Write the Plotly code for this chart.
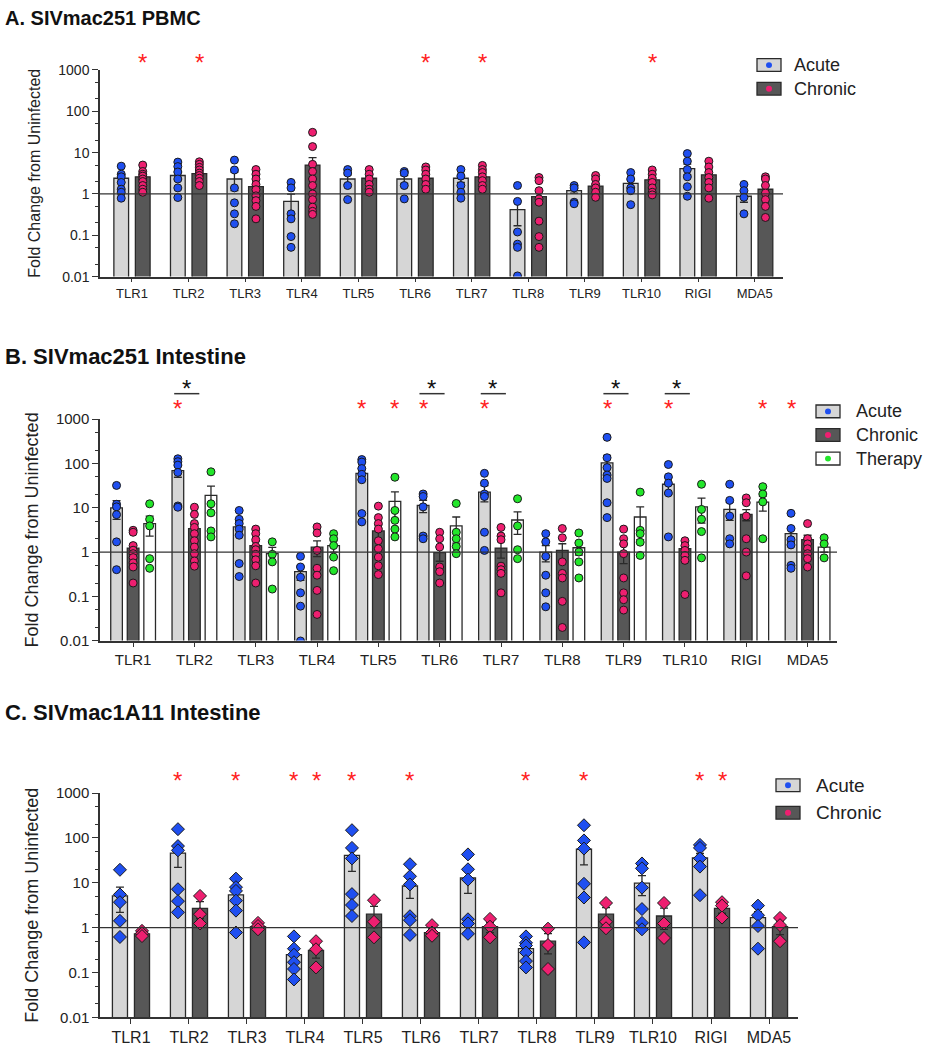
import plotly.graph_objects as go

# ---------------- DATA ----------------
categories = ["TLR1", "TLR2", "TLR3", "TLR4", "TLR5", "TLR6",
              "TLR7", "TLR8", "TLR9", "TLR10", "RIGI", "MDA5"]
yticks = [0.01, 0.1, 1, 10, 100, 1000]
ytick_text = ["0.01", "0.1", "1", "10", "100", "1000"]

# Panel A: SIVmac251 PBMC
a_acute_mean = [2.4, 2.8, 2.3, 0.66, 2.3, 2.3, 2.4, 0.42, 1.2, 1.8, 4.1, 0.88]
a_acute_sem = [0.5, 0.6, 1.1, 0.33, 0.6, 0.5, 0.5, 0.25, 0.15, 0.4, 1.2, 0.25]
a_acute_pts = [
    [4.7, 3.0, 2.6, 1.9, 1.3, 1.1, 0.79],
    [5.9, 4.6, 3.4, 2.3, 1.4, 0.82],
    [6.6, 3.8, 1.4, 0.61, 0.33, 0.19],
    [1.9, 1.4, 0.33, 0.25, 0.093, 0.051],
    [3.9, 3.2, 1.6, 0.73],
    [3.5, 3.2, 1.6, 0.76],
    [3.9, 2.7, 1.6, 1.1, 0.79],
    [1.6, 0.66, 0.12, 0.061, 0.051, 0.0104],
    [1.6, 1.4, 0.63, 0.58],
    [3.3, 2.3, 1.4, 1.2, 0.55],
    [9.5, 6.2, 3.9, 2.6, 1.5, 0.88],
    [1.7, 1.2, 0.83, 0.33],
]
a_chronic_mean = [2.6, 3.1, 1.5, 5.0, 2.4, 2.4, 2.6, 0.86, 1.55, 2.2, 2.9, 1.3]
a_chronic_sem = [0.4, 0.4, 0.35, 2.6, 0.3, 0.3, 0.35, 0.3, 0.2, 0.3, 0.6, 0.3]
a_chronic_pts = [
    [5.0, 3.5, 3.0, 2.7, 2.3, 2.0, 1.6, 1.3, 1.1],
    [6.0, 5.2, 4.4, 3.8, 3.2, 2.8, 2.4, 2.0, 1.6],
    [3.9, 3.0, 2.3, 1.7, 1.27, 0.9, 0.69, 0.5, 0.25],
    [31, 14, 5.2, 3.5, 2.3, 1.6, 1.0, 0.73, 0.48, 0.38, 0.32],
    [3.9, 3.0, 2.3, 1.7, 1.3, 1.1],
    [4.5, 3.8, 3.0, 2.3, 1.7, 1.3],
    [4.9, 3.9, 3.3, 2.6, 2.1, 1.6, 1.3],
    [2.5, 2.1, 1.2, 0.76, 0.63, 0.22, 0.093, 0.051],
    [2.8, 2.3, 1.7, 1.4, 1.1, 0.83],
    [3.8, 3.0, 2.4, 1.9, 1.4, 1.1, 0.95],
    [6.2, 4.5, 3.3, 2.5, 1.9, 1.4, 0.79],
    [2.6, 2.3, 1.6, 1.05, 0.73, 0.5, 0.27],
]
a_star_acute = []
a_star_chronic = ["TLR1", "TLR2", "TLR6", "TLR7", "TLR10"]

# Panel B: SIVmac251 Intestine
b_acute_mean = [10, 69, 3.7, 0.36, 60, 11.3, 22.6, 1.0, 103, 34, 9.2, 2.6]
b_acute_sem = [4.5, 20, 1.2, 0.13, 18, 3.5, 9, 0.4, 50, 14, 4, 1.0]
b_acute_pts = [
    [32, 12, 10.5, 7, 1.7, 0.4],
    [128, 110, 92, 63, 11, 10.3],
    [8.7, 5.5, 4.4, 3.3, 2.4, 0.55, 0.28],
    [0.8, 0.46, 0.27, 0.12, 0.06, 0.0098],
    [123, 108, 77, 57, 43, 7.4, 4.8],
    [20.5, 18, 10.5, 2.3, 2.0],
    [60, 36, 20.5, 18, 2.8, 1.09],
    [2.6, 1.7, 0.8, 0.30, 0.12, 0.058],
    [390, 135, 81, 55, 46, 13, 6.0],
    [95, 50, 36, 21.5, 2.2],
    [34, 14.7, 6.5, 2.0, 1.53],
    [7.5, 3.4, 1.9, 1.45, 0.5, 0.43],
]
b_chronic_mean = [1.23, 3.4, 1.4, 1.29, 3.0, 0.97, 1.23, 1.09, 1.0, 1.19, 7.1, 1.9]
b_chronic_sem = [0.3, 1.0, 0.35, 0.5, 1.1, 0.35, 0.5, 0.45, 0.45, 0.18, 2.0, 0.5]
b_chronic_pts = [
    [3.1, 2.8, 1.4, 1.1, 0.92, 0.75, 0.57, 0.46, 0.2],
    [10.3, 7.1, 4.4, 3.6, 2.6, 1.8, 1.3, 0.92, 0.63, 0.48],
    [3.3, 2.6, 1.9, 1.34, 1.13, 0.89, 0.67, 0.49, 0.2],
    [3.7, 2.7, 1.09, 0.43, 0.30, 0.136, 0.039],
    [10.9, 6.0, 4.4, 3.3, 1.8, 1.19, 0.77, 0.49, 0.31],
    [2.8, 2.0, 1.3, 0.46, 0.36, 0.2],
    [3.6, 2.3, 1.9, 0.48, 0.4, 0.33, 0.12],
    [3.4, 2.1, 0.6, 0.33, 0.26, 0.077, 0.0198],
    [3.3, 2.0, 1.53, 0.92, 0.26, 0.12, 0.084, 0.049],
    [1.8, 1.4, 1.09, 0.84, 0.65, 0.11],
    [16.7, 13, 6.5, 2.0, 1.0, 0.29],
    [4.4, 2.0, 1.53, 1.19, 0.92, 0.71, 0.46],
]
b_therapy_mean = [4.4, 19, 0.92, 1.4, 14, 3.9, 5.3, 1.25, 6.2, 10.5, 13.4, 1.29]
b_therapy_sem = [2.1, 12, 0.35, 0.4, 9, 2.3, 2.8, 0.4, 4.3, 6, 5, 0.3]
b_therapy_pts = [
    [12.3, 5.5, 3.9, 0.71, 0.43],
    [65, 12.3, 7.7, 3.0, 2.2],
    [1.7, 0.89, 0.6, 0.146],
    [2.6, 2.0, 1.4, 0.77, 0.38],
    [49, 8.7, 5.2, 3.3, 2.2],
    [12.5, 2.8, 2.0, 1.34, 0.92],
    [16, 3.9, 1.13, 0.71],
    [2.7, 1.6, 1.0, 0.6, 0.26],
    [22.6, 3.1, 2.6, 1.67, 0.84],
    [34, 9.2, 5.5, 2.9, 0.74],
    [30, 20.5, 13.6, 2.0],
    [2.1, 1.53, 0.74],
]
b_star_acute = ["TLR2", "TLR5", "TLR6", "TLR7", "TLR9", "TLR10", "MDA5"]
b_star_therapy = ["TLR5", "RIGI"]
b_bracket = ["TLR2", "TLR6", "TLR7", "TLR9", "TLR10"]

# Panel C: SIVmac1A11 Intestine
c_acute_mean = [5.1, 46, 5.4, 0.25, 41, 8.5, 12.8, 0.34, 56, 9.8, 36, 1.68]
c_acute_sem = [2.9, 24, 1.8, 0.09, 23, 4, 7, 0.08, 31, 4.6, 9, 0.6]
c_acute_pts = [
    [19.5, 5.5, 3.7, 1.42, 0.62],
    [157, 66, 53, 7.2, 3.9, 2.2],
    [12.4, 8.0, 6.6, 4.0, 2.4, 0.78],
    [0.64, 0.34, 0.25, 0.17, 0.12, 0.07],
    [149, 60, 35, 5.6, 3.2, 1.82],
    [26, 14, 9.2, 1.8, 1.47, 0.69],
    [43, 20, 11.8, 1.54, 1.24, 0.73],
    [0.64, 0.46, 0.40, 0.28, 0.18, 0.13],
    [192, 88, 58, 9.5, 4.7, 0.47],
    [27, 21, 7.8, 2.6, 1.28, 0.92],
    [70, 60, 35, 23, 5.3],
    [3.1, 1.89, 1.09, 0.34],
]
c_chronic_mean = [0.73, 2.7, 1.05, 0.31, 2.0, 0.78, 1.05, 0.50, 2.0, 1.82, 2.7, 1.05]
c_chronic_sem = [0.06, 1.1, 0.1, 0.1, 1.0, 0.15, 0.27, 0.24, 0.8, 0.9, 0.6, 0.35]
c_chronic_pts = [
    [0.85, 0.75, 0.65],
    [5.1, 2.0, 1.24],
    [1.28, 1.09, 0.92],
    [0.5, 0.33, 0.13],
    [4.1, 1.35, 0.61],
    [1.14, 0.78, 0.66],
    [1.57, 1.05, 0.61],
    [0.95, 0.41, 0.12],
    [3.55, 1.35, 0.97],
    [3.55, 1.24, 0.59],
    [3.7, 3.1, 1.68],
    [1.65, 1.14, 0.50],
]
c_star_acute = ["TLR2", "TLR3", "TLR4", "TLR5", "TLR6", "TLR8", "TLR9", "RIGI"]
c_star_chronic = ["TLR4", "RIGI"]

# ---------------- STYLE ----------------
W, H = 926, 1050
FONT = "Arial, Liberation Sans, sans-serif"
TXT = "#222222"
EDGE = "#2a2a2a"
LIGHT, DARK, WHITE = "#d6d6d6", "#575757", "#ffffff"
BLUE, PINK, GREEN = "#1f4ff0", "#ee1f70", "#22e62a"
RED = "#ff2222"


def fx(px):
    return px / W


def fy(py):
    return 1 - py / H


fig = go.Figure()

panels = [
    dict(ax="", title="A. SIVmac251 PBMC", title_y=9, title_size=20,
         xd=(100, 783), yd=(62, 272), xr=(-0.565, 11.5), xtick_font=13, ytick_font=14, ticklen=4,
         ytitle_font=16, standoff=14,
         groups=[("Acute", a_acute_mean, a_acute_sem, a_acute_pts, LIGHT, BLUE, -0.19, 0.26, "circle", 8),
                 ("Chronic", a_chronic_mean, a_chronic_sem, a_chronic_pts, DARK, PINK, 0.19, 0.26, "circle", 8)],
         stars=[(a_star_acute, -0.19), (a_star_chronic, 0.19)], star_y=51,
         legend=dict(x=757, ys=[57, 81], tx=792, size=18)),
    dict(ax="2", title="B. SIVmac251 Intestine", title_y=353, title_size=22,
         xd=(100, 837), yd=(417, 642), xr=(-0.54, 11.48), xtick_font=15, ytick_font=15, ticklen=5,
         ytitle_font=18, standoff=13,
         groups=[("Acute", b_acute_mean, b_acute_sem, b_acute_pts, LIGHT, BLUE, -0.27, 0.19, "circle", 8),
                 ("Chronic", b_chronic_mean, b_chronic_sem, b_chronic_pts, DARK, PINK, 0.0, 0.19, "circle", 8),
                 ("Therapy", b_therapy_mean, b_therapy_sem, b_therapy_pts, WHITE, GREEN, 0.27, 0.19, "circle", 8)],
         stars=[(b_star_acute, -0.27), (b_star_therapy, 0.27)], star_y=403,
         legend=dict(x=816, ys=[409, 433, 457], tx=854, size=18)),
    dict(ax="3", title="C. SIVmac1A11 Intestine", title_y=715, title_size=22,
         xd=(100, 798), yd=(797, 1025), xr=(-0.534, 11.5), xtick_font=16, ytick_font=15, ticklen=5,
         ytitle_font=18, standoff=13,
         groups=[("Acute", c_acute_mean, c_acute_sem, c_acute_pts, LIGHT, BLUE, -0.19, 0.26, "diamond", 10),
                 ("Chronic", c_chronic_mean, c_chronic_sem, c_chronic_pts, DARK, PINK, 0.19, 0.26, "diamond", 10)],
         stars=[(c_star_acute, -0.19), (c_star_chronic, 0.19)], star_y=781,
         legend=dict(x=776, ys=[789, 817], tx=814, size=19)),
]

STAR_SHIFT = 3
annotations = []
shapes = []
idx = list(range(len(categories)))

for p in panels:
    xa = "x" + p["ax"]
    ya = "y" + p["ax"]
    for name, mean, sem, pts, fill, dot, off, wd, sym, msz in p["groups"]:
        fig.add_trace(go.Bar(
            x=[i + off for i in idx], y=mean, width=wd, name=name, showlegend=False,
            marker=dict(color=fill, line=dict(color=EDGE, width=1.3)),
            error_y=dict(type="data", array=sem, visible=True, color=EDGE, thickness=1.3, width=4),
            xaxis=xa, yaxis=ya, hoverinfo="skip"))
    for name, mean, sem, pts, fill, dot, off, wd, sym, msz in p["groups"]:
        xs, ys = [], []
        for i, vals in enumerate(pts):
            xs += [i + off] * len(vals)
            ys += vals
        fig.add_trace(go.Scatter(
            x=xs, y=ys, mode="markers", name=name, showlegend=False,
            marker=dict(color=dot, size=msz, symbol=sym, line=dict(color="#1a1a1a", width=1)),
            xaxis=xa, yaxis=ya))
    shapes.append(dict(type="line", xref=xa + " domain", x0=0, x1=1, yref=ya, y0=1, y1=1,
                       line=dict(color="#333333", width=1.3), layer="above"))
    for names, off in p["stars"]:
        for c in names:
            annotations.append(dict(x=categories.index(c) + off, xref=xa, y=fy(p["star_y"] + STAR_SHIFT),
                                    yref="paper", text="*", showarrow=False,
                                    font=dict(color=RED, size=24, family=FONT),
                                    xanchor="center", yanchor="middle"))
    annotations.append(dict(x=fx(3), y=fy(p["title_y"]), xref="paper", yref="paper",
                            text="<b>" + p["title"] + "</b>", showarrow=False, xanchor="left", yanchor="middle",
                            font=dict(size=p["title_size"], color="#111111", family=FONT)))
    lg = p["legend"]
    for (name, mean, sem, pts, fill, dot, off, wd, sym, msz), ly in zip(p["groups"], lg["ys"]):
        shapes.append(dict(type="rect", xref="paper", yref="paper", x0=fx(lg["x"]), x1=fx(lg["x"] + 24),
                           y0=fy(ly + 6.5), y1=fy(ly - 6.5), fillcolor=fill, line=dict(color=EDGE, width=1.3)))
        shapes.append(dict(type="circle", xref="paper", yref="paper", x0=fx(lg["x"] + 9), x1=fx(lg["x"] + 15),
                           y0=fy(ly + 3), y1=fy(ly - 3), fillcolor=dot, line=dict(width=0)))
        annotations.append(dict(x=fx(lg["tx"]), y=fy(ly), xref="paper", yref="paper", text=name,
                                showarrow=False, xanchor="left", yanchor="middle",
                                font=dict(size=lg["size"], color=TXT, family=FONT)))

    fig.layout["xaxis" + p["ax"]] = dict(
        domain=[fx(p["xd"][0]), fx(p["xd"][1])], range=list(p["xr"]), anchor=ya,
        tickmode="array", tickvals=idx, ticktext=categories, ticks="outside", ticklen=p["ticklen"],
        tickcolor="#333333", tickwidth=1.3, showline=True, linecolor="#333333", linewidth=1.5,
        showgrid=False, zeroline=False, tickfont=dict(size=p["xtick_font"], color=TXT, family=FONT))
    fig.layout["yaxis" + p["ax"]] = dict(
        domain=[fy(p["yd"][1]), fy(p["yd"][0])], type="log", range=[-2, 3], anchor=xa,
        tickmode="array", tickvals=yticks, ticktext=ytick_text, ticks="outside", ticklen=6,
        tickcolor="#333333", tickwidth=1.3, showline=True, linecolor="#333333", linewidth=1.5,
        showgrid=False, zeroline=False, tickfont=dict(size=p["ytick_font"], color=TXT, family=FONT),
        minor=dict(ticks="outside", ticklen=3, tickcolor="#333333", tickwidth=1, showgrid=False),
        title=dict(text="Fold Change from Uninfected", standoff=p["standoff"],
                   font=dict(size=p["ytitle_font"], color=TXT, family=FONT)))

for c in b_bracket:
    i = categories.index(c)
    shapes.append(dict(type="line", xref="x2", x0=i - 0.27 - 0.06, x1=i + 0.08, yref="paper",
                       y0=fy(391), y1=fy(391), line=dict(color="#333333", width=1.5)))
    annotations.append(dict(x=i - 0.135, xref="x2", y=fy(383 + STAR_SHIFT), yref="paper", text="*",
                            showarrow=False, font=dict(color="#111111", size=24, family=FONT),
                            xanchor="center", yanchor="middle"))

fig.update_layout(
    width=W, height=H, margin=dict(l=0, r=0, t=0, b=0),
    paper_bgcolor="white", plot_bgcolor="white", barmode="overlay",
    font=dict(family=FONT, color=TXT), showlegend=False,
    annotations=annotations, shapes=shapes)

page_fix = (
    "document.documentElement.style.margin='0';document.documentElement.style.overflow='hidden';"
    "document.body.style.margin='0';document.body.style.padding='0';document.body.style.overflow='hidden';"
    "var g=document.getElementsByClassName('plotly-graph-div')[0];"
    "g.style.position='fixed';g.style.top='0px';g.style.left='0px';"
)
fig.write_html("out.html", config={"displayModeBar": False}, post_script=page_fix)
